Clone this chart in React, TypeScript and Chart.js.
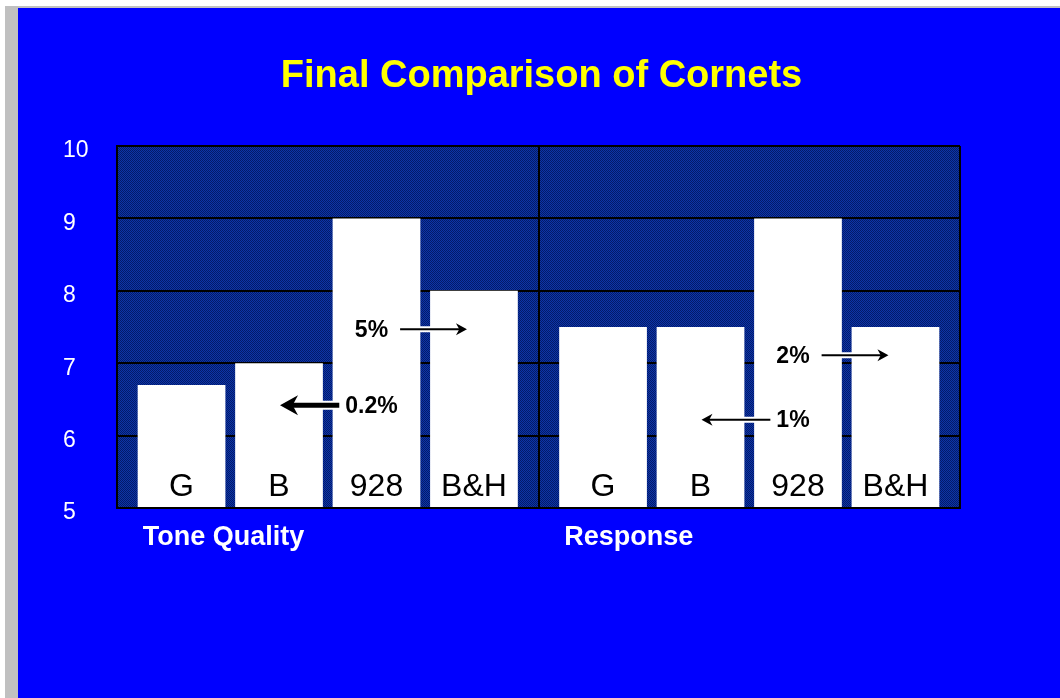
import React, { useEffect, useRef } from "react";
import { Chart, registerables } from "chart.js";

Chart.register(...registerables);

// ---- data ----
const titleText = "Final Comparison of Cornets";
const groups = ["Tone Quality", "Response"];
const cornets = ["G", "B", "928", "B&H"];
const gValues = [6.7, 7.5];
const bValues = [7.0, 7.5];
const c928Values = [9.0, 9.0];
const bhValues = [8.0, 7.5];
const yTicks = [5, 6, 7, 8, 9, 10];

// annotations (percent differences)
const noteLabels = ["5%", "0.2%", "2%", "1%"];
const noteGroups = [0, 0, 1, 1];
const noteValues = [7.47, 6.42, 7.11, 6.22];
const noteFrom = [2, 2, 2, 2];
const noteTo = [3, 1, 3, 1];
const noteThick = [false, true, false, false];

const FONT = '"Liberation Sans", Arial, Helvetica, sans-serif';

const bgPlugin = {
  id: "plotBg",
  beforeDraw(chart: any) {
    const { ctx, chartArea } = chart;
    const pc = document.createElement("canvas");
    pc.width = 2;
    pc.height = 2;
    const p = pc.getContext("2d")!;
    p.fillStyle = "#0d35a8";
    p.fillRect(0, 0, 2, 2);
    p.fillStyle = "#031a6a";
    p.fillRect(0, 0, 1, 1);
    p.fillRect(1, 1, 1, 1);
    const pat = ctx.createPattern(pc, "repeat");
    ctx.save();
    ctx.fillStyle = pat || "#08277f";
    ctx.fillRect(chartArea.left, chartArea.top, chartArea.right - chartArea.left, chartArea.bottom - chartArea.top);
    ctx.restore();
  },
};

const titlePlugin = {
  id: "centerTitle",
  afterDraw(chart: any) {
    const { ctx, chartArea } = chart;
    ctx.save();
    ctx.fillStyle = "#ffff00";
    ctx.font = `bold 38px ${FONT}`;
    ctx.textAlign = "center";
    ctx.textBaseline = "middle";
    ctx.fillText(titleText, (chartArea.left + chartArea.right) / 2 + 3, 69);
    ctx.restore();
  },
};

const barLabelPlugin = {
  id: "barLabels",
  afterDatasetsDraw(chart: any) {
    const { ctx, chartArea } = chart;
    ctx.save();
    ctx.fillStyle = "#000000";
    ctx.font = `32px ${FONT}`;
    ctx.textAlign = "center";
    ctx.textBaseline = "alphabetic";
    chart.data.datasets.forEach((ds: any, i: number) => {
      const meta = chart.getDatasetMeta(i);
      meta.data.forEach((el: any) => {
        ctx.fillText(ds.label, el.x, chartArea.bottom - 12);
      });
    });
    ctx.restore();
  },
};

function drawArrow(ctx: CanvasRenderingContext2D, x0: number, x1: number, y: number, thick: boolean) {
  const dir = x1 > x0 ? 1 : -1;
  const lw = thick ? 5 : 2;
  const hl = thick ? 18 : 11;
  const hh = thick ? 10 : 6;
  const lineEnd = x1 - dir * hl * 0.6;
  ctx.save();
  ctx.lineCap = "butt";
  ctx.strokeStyle = "#ffffff";
  ctx.lineWidth = lw + 4;
  ctx.beginPath();
  ctx.moveTo(x0, y);
  ctx.lineTo(lineEnd, y);
  ctx.stroke();
  ctx.strokeStyle = "#000000";
  ctx.lineWidth = lw;
  ctx.beginPath();
  ctx.moveTo(x0, y);
  ctx.lineTo(lineEnd, y);
  ctx.stroke();
  ctx.fillStyle = "#000000";
  ctx.beginPath();
  ctx.moveTo(x1, y);
  ctx.lineTo(x1 - dir * hl, y - hh);
  ctx.lineTo(x1 - dir * hl * 0.7, y);
  ctx.lineTo(x1 - dir * hl, y + hh);
  ctx.closePath();
  ctx.fill();
  ctx.restore();
}

const notePlugin = {
  id: "notes",
  afterDatasetsDraw(chart: any) {
    const { ctx } = chart;
    const yScale = chart.scales.y;
    ctx.save();
    ctx.font = `bold 23px ${FONT}`;
    ctx.fillStyle = "#000000";
    ctx.textAlign = "center";
    ctx.textBaseline = "middle";
    noteLabels.forEach((label, k) => {
      const from = chart.getDatasetMeta(noteFrom[k]).data[noteGroups[k]];
      const to = chart.getDatasetMeta(noteTo[k]).data[noteGroups[k]];
      const y = yScale.getPixelForValue(noteValues[k]);
      const tx = from.x - 5;
      const w = ctx.measureText(label).width;
      ctx.fillText(label, tx, y + 1);
      const dir = to.x > from.x ? 1 : -1;
      const start = dir > 0 ? tx + w / 2 + 12 : tx - w / 2 - 6;
      const tip = dir > 0 ? to.x - 7 : to.x + 1;
      drawArrow(ctx, start, tip, y, noteThick[k]);
    });
    ctx.restore();
  },
};

export default function App() {
  const ref = useRef<HTMLCanvasElement | null>(null);

  useEffect(() => {
    if (!ref.current) return;
    const seriesValues = [gValues, bValues, c928Values, bhValues];
    const chart = new Chart(ref.current, {
      type: "bar",
      data: {
        labels: groups,
        datasets: cornets.map((name, i) => ({
          label: name,
          data: seriesValues[i],
          backgroundColor: "#ffffff",
          borderWidth: 0,
          base: 5,
          categoryPercentage: 0.925,
          barPercentage: 0.9,
        })),
      },
      options: {
        responsive: false,
        animation: false,
        events: [],
        layout: { padding: { top: 138, left: 45, right: 100, bottom: 0 } },
        plugins: {
          legend: { display: false },
          tooltip: { enabled: false },
          title: { display: false },
        },
        scales: {
          x: {
            offset: true,
            grid: { display: true, offset: true, color: "#000000", lineWidth: 2, drawTicks: false },
            border: { display: true, color: "#000000", width: 2 },
            ticks: {
              color: "#ffffff",
              font: { family: FONT, size: 27, weight: "bold" },
              align: "start",
              labelOffset: -185,
              padding: 13,
              maxRotation: 0,
              autoSkip: false,
            },
            afterFit(scale: any) {
              scale.height = 190;
            },
          },
          y: {
            min: 5,
            max: 10,
            grid: { color: "#000000", lineWidth: 2, drawTicks: false },
            border: { display: true, color: "#000000", width: 2 },
            ticks: {
              color: "#ffffff",
              font: { family: FONT, size: 23 },
              crossAlign: "far",
              labelOffset: 5,
              padding: 0,
            },
            afterBuildTicks(scale: any) {
              scale.ticks = yTicks.map((v) => ({ value: v }));
            },
            afterFit(scale: any) {
              scale.width = 54;
            },
          },
        },
      },
      plugins: [bgPlugin, barLabelPlugin, notePlugin, titlePlugin],
    } as any);
    return () => chart.destroy();
  }, []);

  return (
    <div style={{ position: "fixed", left: 0, top: 0, width: 1060, height: 698, background: "#ffffff", overflow: "hidden" }}>
      <div style={{ position: "absolute", left: 5, top: 6, width: 1055, height: 692, background: "#c0c0c0" }} />
      <canvas
        ref={ref}
        width={1042}
        height={690}
        style={{ position: "absolute", left: 18, top: 8, width: 1042, height: 690, background: "#0000ff", display: "block" }}
      />
    </div>
  );
}
